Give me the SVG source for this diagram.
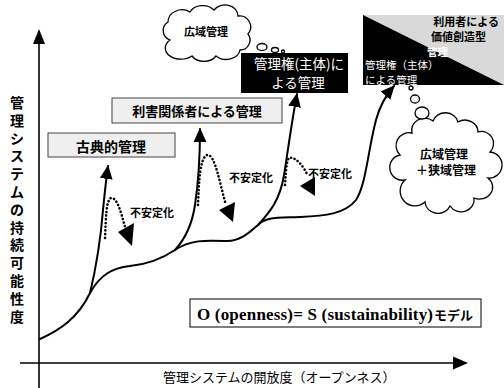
<svg xmlns="http://www.w3.org/2000/svg" width="504" height="388" viewBox="0 0 504 388">
<style>
.jp{font-family:"Noto Sans CJK JP","Noto Sans",sans-serif;}
.b{font-weight:bold;}
.line{fill:none;stroke:#000;stroke-width:2;stroke-linecap:round;}
.dot{fill:none;stroke:#000;stroke-width:2.6;stroke-dasharray:0.1 3.6;stroke-linecap:round;}
.box{fill:#efefef;stroke:#444;stroke-width:1;}
.cloud{fill:#fff;stroke:#000;stroke-width:1.3;}
</style>
<defs>
<marker id="ah" markerUnits="userSpaceOnUse" markerWidth="14" markerHeight="14" viewBox="0 0 13 12" refX="12" refY="6" orient="auto">
<path d="M0,0 L13,6 L0,12 z" fill="#000"/>
</marker>
</defs>
<rect width="504" height="388" fill="#fff"/>

<g id="axes">
<line x1="39" y1="42" x2="39" y2="388" stroke="#000" stroke-width="1.6"/>
<polygon points="39,29 33,44 45,44" fill="#000"/>
<line x1="20" y1="363" x2="455" y2="363" stroke="#000" stroke-width="1.6"/>
<polygon points="468,363 453,356.5 453,369.5" fill="#000"/>
<text class="jp b" font-size="14" text-anchor="middle" x="17 17 17 17 17 17 17 17 17 17 17 17 17" y="108 125.8 143.6 161.4 179.2 197 214.8 232.6 250.4 268.2 286 303.8 321.6">管理システムの持続可能性度</text>
<text class="jp" font-size="13" x="163" y="382">管理システムの開放度（オープンネス）</text>
</g>

<g id="connectors">
<path class="line" d="M40,339 C60,330 78,318 90,293 C100,275 112,268 130,266 C150,264 163,258 175,250 C190,240 205,240 225,241 C240,242 250,232 258,225 C266,217 275,218 300,217 C325,216 345,214 356,200 C366,185 368,150 376,120 C380,105 386,95 394,86" marker-end="url(#ah)"/>
<path class="line" d="M90,293 C96,268 101,235 103,210 C105,190 106,180 108,166" marker-end="url(#ah)"/>
<path class="line" d="M175,250 C186,238 192,225 195,205 C198,185 200,160 200,129" marker-end="url(#ah)"/>
<path class="line" d="M258,225 C270,212 280,200 284,175 C288,150 292,120 297,94" marker-end="url(#ah)"/>
<path class="dot" d="M105,238 C106,218 106,200 111,198 C117,197 121,212 125,227"/>
<polygon points="118,232 134,223 132,246" fill="#000"/>
<path class="dot" d="M198,205 C199,180 200,158 207,155 C215,153 220,185 226,205"/>
<polygon points="219,210 235,202 233,222" fill="#000"/>
<path class="dot" d="M285,185 C286,172 286,162 289,158 C295,156 303,165 308,176"/>
<polygon points="300,186 315,177 315,196" fill="#000"/>
<text class="jp b" font-size="11" x="130" y="217">不安定化</text>
<text class="jp b" font-size="11" x="229" y="182">不安定化</text>
<text class="jp b" font-size="11" x="308" y="178">不安定化</text>
</g>

<g id="node-classic">
<rect class="box" x="48" y="133" width="127" height="24"/>
<text class="jp b" font-size="14" text-anchor="middle" x="111" y="152">古典的管理</text>
</g>

<g id="node-stakeholder">
<rect class="box" x="112" y="98" width="170" height="25"/>
<text class="jp b" font-size="13" text-anchor="middle" x="197" y="116">利害関係者による管理</text>
</g>

<g id="node-authority">
<rect x="241" y="53" width="107" height="40" fill="#000"/>
<text class="jp" font-size="13.5" fill="#fff" text-anchor="middle" x="299" y="69">管理権(主体)に</text>
<text class="jp" font-size="13.5" fill="#fff" text-anchor="middle" x="298" y="88">よる管理</text>
</g>

<g id="node-wide-cloud">
<path class="cloud" d="M170,40 a10,10 0 0 1 -2,-18 a14,12 0 0 1 22,-10 a14,11 0 0 1 24,-2 a13,11 0 0 1 24,6 a11,11 0 0 1 10,18 a10,10 0 0 1 -8,16 a14,11 0 0 1 -24,6 a14,11 0 0 1 -24,0 a14,10 0 0 1 -22,-16 z"/>
<ellipse class="cloud" cx="262" cy="47" rx="5" ry="3.5"/>
<ellipse class="cloud" cx="275" cy="50" rx="3.5" ry="2.5"/>
<circle class="cloud" cx="283" cy="51.5" r="1.5"/>
<text class="jp b" font-size="11" text-anchor="middle" x="206" y="36">広域管理</text>
</g>

<g id="node-user-value">
<rect x="363" y="15" width="141" height="70" fill="#d9d9d9"/>
<polygon points="363,15 504,85 363,85" fill="#000"/>
<text class="jp b" font-size="11" text-anchor="end" x="499" y="26">利用者による</text>
<text class="jp b" font-size="11" x="431" y="40.5">価値創造型</text>
<text class="jp b" font-size="10.5" fill="#fff" x="427" y="55.5">管理</text>
<text class="jp" font-size="10.5" fill="#fff" x="365" y="69">管理権（主体）</text>
<text class="jp" font-size="10.5" fill="#fff" x="365" y="83.5">による管理</text>
</g>

<g id="node-wide-narrow-cloud">
<path class="cloud" d="M405,180 a12,12 0 0 1 -5,-25 a13,13 0 0 1 12,-22 a13,12 0 0 1 21,-12 a13,12 0 0 1 25,1 a13,12 0 0 1 20,10 a12,12 0 0 1 12,20 a13,13 0 0 1 -2,26 a13,12 0 0 1 -14,20 a13,12 0 0 1 -24,8 a13,12 0 0 1 -25,-4 a12,12 0 0 1 -20,-22 z"/>
<circle class="cloud" cx="411" cy="88" r="2"/>
<ellipse class="cloud" cx="415" cy="99" rx="4.5" ry="4"/>
<ellipse class="cloud" cx="422" cy="113" rx="7" ry="6"/>
<text class="jp b" font-size="12" text-anchor="middle" x="444" y="159">広域管理</text>
<text class="jp b" font-size="12" text-anchor="middle" x="446" y="175">＋狭域管理</text>
</g>

<g id="node-model">
<rect x="190" y="299" width="291" height="28" fill="#fff" stroke="#000" stroke-width="1"/>
<text font-family="Liberation Serif,serif" font-weight="bold" font-size="17" x="197" y="320" textLength="236" lengthAdjust="spacing">O (openness)= S (sustainability)</text>
<text class="jp b" font-size="13" x="434" y="320">モデル</text>
</g>
</svg>
